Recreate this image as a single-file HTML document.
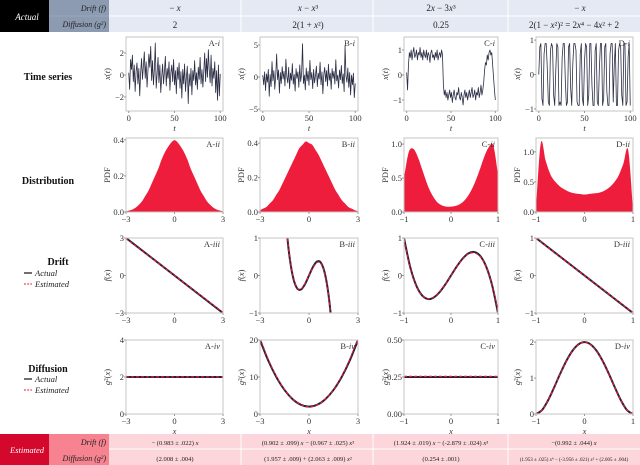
<!DOCTYPE html>
<html><head><meta charset="utf-8">
<style>
body{margin:0;background:#fff;width:640px;height:465px;overflow:hidden;font-family:"Liberation Serif",serif}
svg{display:block}
text{font-family:"Liberation Serif",serif}
</style></head><body>
<svg id="fig" width="640" height="465" viewBox="0 0 640 465">
<g>
<rect x="0" y="0" width="49" height="32" fill="#000"/>
<rect x="49" y="0" width="60" height="32" fill="#8d9bb2"/>
<rect x="109" y="0" width="531" height="32" fill="#e5e9f3"/>
<line x1="109" y1="16" x2="640" y2="16" stroke="#fff" stroke-width="1"/>
<line x1="49" y1="16" x2="109" y2="16" stroke="#a5b1c4" stroke-width="0.5"/>
<line x1="241" y1="0" x2="241" y2="32" stroke="#fff"/><line x1="373" y1="0" x2="373" y2="32" stroke="#fff"/><line x1="508" y1="0" x2="508" y2="32" stroke="#fff"/>
<text x="27" y="20" fill="#fff" font-size="9" font-style="italic" text-anchor="middle">Actual</text>
<text x="106" y="11" fill="#222" font-size="8" font-style="italic" text-anchor="end">Drift (f)</text>
<text x="106" y="27" fill="#222" font-size="8" font-style="italic" text-anchor="end">Diffusion (g²)</text>
<g font-size="9" text-anchor="middle" fill="#222">
<text x="175" y="11">− <tspan font-style="italic">x</tspan></text>
<text x="308" y="11"><tspan font-style="italic">x</tspan> − <tspan font-style="italic">x</tspan>³</text>
<text x="441" y="11">2<tspan font-style="italic">x</tspan> − 3<tspan font-style="italic">x</tspan>³</text>
<text x="580" y="11">− <tspan font-style="italic">x</tspan></text>
<text x="175" y="28">2</text>
<text x="308" y="28">2(1 + <tspan font-style="italic">x</tspan>²)</text>
<text x="441" y="28">0.25</text>
<text x="574" y="28">2(1 − <tspan font-style="italic">x</tspan>²)² = 2<tspan font-style="italic">x</tspan>⁴ − 4<tspan font-style="italic">x</tspan>² + 2</text>
</g></g>
<g>
<rect x="0" y="434" width="49" height="31" fill="#d4072c"/>
<rect x="49" y="434" width="60" height="31" fill="#f6838f"/>
<rect x="109" y="434" width="531" height="31" fill="#fcd6db"/>
<line x1="109" y1="449" x2="640" y2="449" stroke="#fff"/>
<line x1="241" y1="434" x2="241" y2="465" stroke="#fff"/><line x1="373" y1="434" x2="373" y2="465" stroke="#fff"/><line x1="508" y1="434" x2="508" y2="465" stroke="#fff"/>
<text x="27" y="453" fill="#fff" font-size="8.5" font-style="italic" text-anchor="middle">Estimated</text>
<text x="106" y="445" fill="#222" font-size="8" font-style="italic" text-anchor="end">Drift (f)</text>
<text x="106" y="461" fill="#222" font-size="8" font-style="italic" text-anchor="end">Diffusion (g²)</text>
<g font-size="6.5" text-anchor="middle" fill="#222">
<text x="175" y="445">− (0.983 ± .022) <tspan font-style="italic">x</tspan></text>
<text x="308" y="445">(0.902 ± .099) <tspan font-style="italic">x</tspan> − (0.967 ± .025) <tspan font-style="italic">x</tspan>³</text>
<text x="441" y="445">(1.924 ± .019) <tspan font-style="italic">x</tspan> − (-2.879 ± .024) <tspan font-style="italic">x</tspan>³</text>
<text x="574" y="445">−(0.992 ± .044) <tspan font-style="italic">x</tspan></text>
<text x="175" y="461">(2.008 ± .004)</text>
<text x="308" y="461">(1.957 ± .009) + (2.063 ± .009) <tspan font-style="italic">x</tspan>²</text>
<text x="441" y="461">(0.254 ± .001)</text>
<text x="574" y="461" font-size="5">(1.953 ± .025) <tspan font-style="italic">x</tspan>⁴ − (-3.956 ± .021) <tspan font-style="italic">x</tspan>² + (2.005 ± .004)</text>
</g></g>
<g font-weight="bold" font-size="10" fill="#111" text-anchor="middle">
<text x="48" y="80">Time series</text>
<text x="48" y="184">Distribution</text>
<text x="58" y="265">Drift</text>
<text x="48" y="372">Diffusion</text>
</g>
<g font-size="8.5" font-style="italic" fill="#222">
<line x1="24" y1="273" x2="32" y2="273" stroke="#222" stroke-width="1.3"/><text x="35" y="276">Actual</text>
<line x1="24" y1="284" x2="32" y2="284" stroke="#e8192c" stroke-width="1" stroke-dasharray="2,1.2"/><text x="35" y="287">Estimated</text>
</g>
<g font-size="8.5" font-style="italic" fill="#222">
<line x1="24" y1="379" x2="32" y2="379" stroke="#222" stroke-width="1.3"/><text x="35" y="382">Actual</text>
<line x1="24" y1="390" x2="32" y2="390" stroke="#e8192c" stroke-width="1" stroke-dasharray="2,1.2"/><text x="35" y="393">Estimated</text>
</g>
<g id="panels"></g>
</svg>
<script>
// ---- data ----
const tsA=[0.2,-1.3,1.4,0.5,1.8,-0.6,0.9,-1.5,0.3,1.1,-0.8,0.6,-1.9,0.2,1.5,-0.4,0.8,2.1,-0.3,1.2,-1.1,0.4,1.9,0.7,2.6,-0.5,1.3,-0.9,0.5,2.9,-1.2,0.1,1.6,-0.7,0.9,-1.6,-0.2,1.0,-0.8,0.3,1.7,-1.0,0.6,-0.3,1.2,-1.4,0.2,0.9,-0.6,1.4,-0.9,0.4,-1.7,0.7,-0.4,1.1,-1.2,0.3,-2.1,0.5,-0.8,1.0,-1.5,-0.2,0.8,-2.6,0.1,-1.0,0.6,-1.8,0.4,-0.5,1.3,-0.9,0.2,-1.3,0.7,-0.4,1.6,-0.8,0.5,-1.1,0.3,2.0,-0.6,1.5,-0.2,2.3,0.4,-0.7,1.8,-1.0,0.6,-0.3,1.2,-1.6,0.4,-2.3,0.9,-1.9,0.1];
const tsB=[0.3,-1.2,0.8,-2.1,0.5,-0.8,1.2,-3.0,0.4,-1.5,2.4,-0.6,1.0,-1.9,0.2,3.6,-0.4,1.1,-2.5,0.7,-1.0,1.6,-0.3,0.9,-1.4,2.8,0.1,-0.9,1.5,-1.8,0.6,-0.5,2.1,-1.1,0.4,-2.2,1.3,-0.2,0.8,-1.6,1.9,-0.7,0.5,5.2,-1.0,0.3,-2.0,1.4,-0.6,0.9,-1.3,2.6,-0.4,0.7,-1.8,1.2,-0.9,0.2,1.7,-1.5,0.6,-0.3,2.3,-1.2,0.8,-2.6,0.4,1.5,-0.7,1.0,-1.4,2.0,-0.5,0.6,-1.9,1.3,-0.2,0.9,-1.1,2.7,-0.6,0.3,-1.7,1.1,-0.4,1.8,-1.0,0.5,-2.3,4.9,0.2,-0.8,1.4,-1.6,0.7,-2.8,0.3,-1.2,0.6,-3.2,-1.0];
const tsC=[0.1,-0.6,0.4,0.9,0.7,1.0,0.6,0.9,1.1,0.7,0.8,1.0,0.6,0.9,0.8,1.1,0.7,0.9,0.6,1.0,0.8,0.7,1.0,0.6,0.9,0.8,0.5,0.9,1.0,0.7,0.8,0.6,0.9,0.7,1.0,0.6,0.8,0.9,0.7,1.0,0.8,-0.4,-0.8,-0.6,-0.9,-0.7,-1.0,-0.8,-0.6,-0.9,-0.7,-1.1,-0.8,-0.6,-0.9,-1.0,-0.7,-0.8,-0.5,-0.9,-1.0,-0.7,-0.9,-1.2,-0.8,-0.6,-0.9,-0.7,-1.0,-0.8,-0.6,-0.9,-0.7,-0.5,-0.9,-0.8,-0.6,-1.0,-0.7,-0.8,-0.5,-0.9,-0.7,-0.4,-0.8,-0.6,-0.3,0.2,0.5,0.4,0.8,0.6,0.9,1.0,0.8,0.9,0.4,-0.1,-0.6,-1.0];
const tsD=[0,0.8,0.9,-0.7,-0.9,0.6,0.9,0.9,0.2,-0.8,-0.9,0.7,0.9,0.8,-0.6,-0.9,0.1,0.9,0.8,-0.9,-0.8,-0.9,0.5,0.9,0.9,-0.2,-0.9,-0.8,0.8,0.9,-0.4,-0.9,0.3,0.9,0.9,0.7,-0.8,-0.9,-0.9,0.6,0.9,-0.7,-0.9,0.4,0.9,0.8,-0.9,-0.6,0.9,0.9,-0.3,-0.9,-0.9,0.7,0.9,-0.8,-0.9,0.2,0.9,0.9,-0.9,-0.7,0.8,0.9,-0.5,-0.9,-0.9,0.6,0.9,0.9,-0.8,0.3,0.9,-0.9,-0.9,0.7,0.9,0.8,-0.6,-0.9,0.9,0.9,-0.9,-0.8,0.5,0.9,-0.9];
const pdfA=[0.004,0.008,0.014,0.024,0.04,0.06,0.09,0.12,0.16,0.2,0.24,0.29,0.33,0.36,0.385,0.398,0.385,0.36,0.33,0.29,0.24,0.2,0.16,0.12,0.09,0.06,0.04,0.024,0.014,0.008,0.004];
const pdfB=[0.01,0.02,0.03,0.05,0.07,0.1,0.13,0.17,0.21,0.25,0.29,0.33,0.37,0.39,0.41,0.4,0.39,0.36,0.33,0.29,0.25,0.21,0.17,0.13,0.1,0.07,0.05,0.03,0.02,0.01,0.005];
const pdfC=[0.5,0.88,0.93,0.8,0.6,0.4,0.25,0.15,0.1,0.08,0.08,0.09,0.12,0.18,0.28,0.42,0.6,0.8,0.95,0.98,0.55];
const pdfD=[0.05,1.15,0.85,0.62,0.5,0.42,0.37,0.33,0.31,0.3,0.29,0.3,0.31,0.32,0.35,0.4,0.48,0.6,0.8,1.03,0.05];
const driftXA=[-3,3], driftA=[3,-3], driftEstA=[2.95,-2.95];
const driftXB=[-1.5,-1.25,-1,-0.75,-0.5,-0.25,0,0.25,0.5,0.75,1,1.25,1.5];
const driftB=[1.875,0.703,0,-0.328,-0.375,-0.234,0,0.234,0.375,0.328,0,-0.703,-1.875];
const driftEstB=[1.91,0.72,0.03,-0.31,-0.36,-0.22,0,0.21,0.35,0.3,-0.03,-0.72,-1.9];
const driftXC=[-1,-0.875,-0.75,-0.625,-0.5,-0.375,-0.25,-0.125,0,0.125,0.25,0.375,0.5,0.625,0.75,0.875,1];
const driftC=[1,0.26,-0.234,-0.518,-0.625,-0.592,-0.453,-0.244,0,0.244,0.453,0.592,0.625,0.518,0.234,-0.26,-1];
const driftEstC=[0.955,0.23,-0.25,-0.52,-0.62,-0.58,-0.44,-0.24,0,0.24,0.44,0.58,0.6,0.5,0.23,-0.25,-0.955];
const driftXD=[-1,1], driftD=[1,-1], driftEstD=[0.99,-0.99];
const diffXA=[-3,3], diffA=[2,2], diffEstA=[2.008,2.008];
const diffXB=[-3,-2.5,-2,-1.5,-1,-0.5,0,0.5,1,1.5,2,2.5,3];
const diffB=[20,14.5,10,6.5,4,2.5,2,2.5,4,6.5,10,14.5,20];
const diffEstB=[20.5,14.85,10.2,6.6,4.02,2.47,1.96,2.47,4.02,6.6,10.2,14.85,20.5];
const diffXC=[-1,1], diffC=[0.25,0.25], diffEstC=[0.254,0.254];
const diffXD=[-1,-0.875,-0.75,-0.625,-0.5,-0.375,-0.25,-0.125,0,0.125,0.25,0.375,0.5,0.625,0.75,0.875,1];
const diffD=[0,0.11,0.383,0.742,1.125,1.476,1.758,1.938,2,1.938,1.758,1.476,1.125,0.742,0.383,0.11,0];
const diffEstD=[0,0.11,0.38,0.74,1.12,1.47,1.75,1.93,2.005,1.93,1.75,1.47,1.12,0.74,0.38,0.11,0];

const NS='http://www.w3.org/2000/svg';
const root=document.getElementById('panels');
const cols=[{x0:126,x1:223,L:'A'},{x0:260,x1:358,L:'B'},{x0:404,x1:498,L:'C'},{x0:536,x1:633,L:'D'}];
const rows=[{y0:37,y1:111,r:'i'},{y0:138,y1:212,r:'ii'},{y0:238,y1:313,r:'iii'},{y0:340,y1:414,r:'iv'}];
function mk(tag,attrs,parent){const e=document.createElementNS(NS,tag);for(const k in attrs)e.setAttribute(k,attrs[k]);(parent||root).appendChild(e);return e;}
function smooth(pts){if(pts.length<3)return 'M'+pts.map(p=>p.join(',')).join('L');let d='M'+pts[0].join(',');for(let i=0;i<pts.length-1;i++){const p0=pts[Math.max(0,i-1)],p1=pts[i],p2=pts[i+1],p3=pts[Math.min(pts.length-1,i+2)];const c1=[p1[0]+(p2[0]-p0[0])/6,p1[1]+(p2[1]-p0[1])/6],c2=[p2[0]-(p3[0]-p1[0])/6,p2[1]-(p3[1]-p1[1])/6];d+='C'+c1.join(',')+' '+c2.join(',')+' '+p2.join(',');}return d;}
let clipId=0;
function panel(ci,ri,o){
  const c=cols[ci],r=rows[ri];
  const g=mk('g',{});
  
  
  const sx=v=>c.x0+(v-o.xd[0])/(o.xd[1]-o.xd[0])*(c.x1-c.x0);
  const sy=v=>r.y1-(v-o.yd[0])/(o.yd[1]-o.yd[0])*(r.y1-r.y0);
  const id='clip'+(clipId++);
  const cp=mk('clipPath',{id:id},g);mk('rect',{x:c.x0,y:r.y0,width:c.x1-c.x0,height:r.y1-r.y0},cp);
  const body=mk('g',{'clip-path':'url(#'+id+')'},g);
  o.draw(body,sx,sy);
  mk('rect',{x:c.x0,y:r.y0,width:c.x1-c.x0,height:r.y1-r.y0,fill:'none',stroke:'#c4c4c4','stroke-width':1},g);
  o.xt.forEach(([v,l])=>{const x=sx(v);mk('line',{x1:x,y1:r.y1,x2:x,y2:r.y1+2,stroke:'#999'},g);const t=mk('text',{x:x,y:r.y1+10,'font-size':8.5,'text-anchor':'middle',fill:'#333'},g);t.textContent=l;});
  o.yt.forEach(([v,l])=>{const y=sy(v);mk('line',{x1:c.x0-2,y1:y,x2:c.x0,y2:y,stroke:'#999'},g);const t=mk('text',{x:c.x0-2,y:y+3,'font-size':8.5,'text-anchor':'end',fill:'#333'},g);t.textContent=l;});
  const yl=mk('text',{x:0,y:0,'font-size':8.5,'text-anchor':'middle',fill:'#333',transform:'translate('+(c.x0-16)+','+((r.y0+r.y1)/2)+') rotate(-90)'},g);
  
  
  yl.innerHTML=o.yl;
  if(o.xl){const xl=mk('text',{x:(c.x0+c.x1)/2,y:r.y1+20,'font-size':8.5,'font-style':'italic','text-anchor':'middle',fill:'#333'},g);xl.textContent=o.xl;}
  const pl=mk('text',{x:c.x1-3,y:r.y0+9,'font-size':8.5,'text-anchor':'end',fill:'#333'},g);
  
  
  pl.innerHTML=c.L+'-<tspan font-style="italic">'+r.r+'</tspan>';
}
function ts(data){return (b,sx,sy)=>{const n=data.length;const pts=data.map((v,i)=>[sx(i*100/(n-1)).toFixed(2),sy(v).toFixed(2)]);const p=mk('polyline',{points:pts.map(p=>p.join(',')).join(' '),fill:'none',stroke:'#2b2e45','stroke-width':0.8,'stroke-linejoin':'round'},b);};}
function hist(data,lo,hi){return (b,sx,sy)=>{const n=data.length,w=(hi-lo)/(n-1);const pts=data.map((v,i)=>[sx(lo+i*w),sy(v)]);let d=smooth(pts);d+='L'+sx(hi)+','+sy(0)+'L'+sx(lo)+','+sy(0)+'Z';const p=mk('path',{d:d,fill:'#ee1d3c',stroke:'none'},b);};}
function curves(xs,act,est){return (b,sx,sy)=>{const a=mk('path',{d:smooth(xs.map((x,i)=>[sx(x),sy(act[i])])),fill:'none',stroke:'#22233a','stroke-width':2},b);const e=mk('path',{d:smooth(xs.map((x,i)=>[sx(x),sy(est[i])])),fill:'none',stroke:'#e8192c','stroke-width':1.2,'stroke-dasharray':'3,2'},b);};}
const XT=[[0,'0'],[50,'50'],[100,'100']];
const X3=[[-3,'−3'],[0,'0'],[3,'3']], X1=[[-1,'−1'],[0,'0'],[1,'1']];
const xl='<tspan font-style="italic">x</tspan>(<tspan font-style="italic">t</tspan>)';
const fl='<tspan font-style="italic">f</tspan>(<tspan font-style="italic">x</tspan>)';
const gl='<tspan font-style="italic">g</tspan>²(<tspan font-style="italic">x</tspan>)';
panel(0,0,{xd:[-3,103],yd:[-3.27,3.45],xt:XT,yt:[[2,'2'],[0,'0'],[-2,'−2']],yl:xl,xl:'t',draw:ts(tsA)});
panel(1,0,{xd:[-3,103],yd:[-5.3,6.25],xt:XT,yt:[[5,'5'],[0,'0'],[-5,'−5']],yl:xl,xl:'t',draw:ts(tsB)});
panel(2,0,{xd:[-3,103],yd:[-1.44,1.52],xt:XT,yt:[[1,'1'],[0,'0'],[-1,'−1']],yl:xl,xl:'t',draw:ts(tsC)});
panel(3,0,{xd:[-3,103],yd:[-1.06,1.09],xt:XT,yt:[[1,'1'],[0,'0'],[-1,'−1']],yl:xl,xl:'t',draw:ts(tsD)});
panel(0,1,{xd:[-3,3],yd:[0,0.41],xt:X3,yt:[[0,'0.0'],[0.2,'0.2'],[0.4,'0.4']],yl:'PDF',draw:hist(pdfA,-3,3)});
panel(1,1,{xd:[-3,3],yd:[0,0.43],xt:X3,yt:[[0,'0.0'],[0.2,'0.2'],[0.4,'0.4']],yl:'PDF',draw:hist(pdfB,-3,3)});
panel(2,1,{xd:[-1,1],yd:[0,1.09],xt:X1,yt:[[0,'0.0'],[0.5,'0.5'],[1,'1.0']],yl:'PDF',draw:hist(pdfC,-1,1)});
panel(3,1,{xd:[-1,1],yd:[0,1.23],xt:X1,yt:[[0,'0.0'],[0.5,'0.5'],[1,'1.0']],yl:'PDF',draw:hist(pdfD,-1,1)});
panel(0,2,{xd:[-3,3],yd:[-3,3],xt:X3,yt:[[3,'3'],[0,'0'],[-3,'−3']],yl:fl,draw:curves(driftXA,driftA,driftEstA)});
panel(1,2,{xd:[-3,3],yd:[-1,1],xt:X3,yt:[[1,'1'],[0,'0'],[-1,'−1']],yl:fl,draw:curves(driftXB,driftB,driftEstB)});
panel(2,2,{xd:[-1,1],yd:[-1,1],xt:X1,yt:[[1,'1'],[0,'0'],[-1,'−1']],yl:fl,draw:curves(driftXC,driftC,driftEstC)});
panel(3,2,{xd:[-1,1],yd:[-1,1],xt:X1,yt:[[1,'1'],[0,'0'],[-1,'−1']],yl:fl,draw:curves(driftXD,driftD,driftEstD)});
panel(0,3,{xd:[-3,3],yd:[0,4],xt:X3,yt:[[4,'4'],[2,'2'],[0,'0']],yl:gl,xl:'x',draw:curves(diffXA,diffA,diffEstA)});
panel(1,3,{xd:[-3,3],yd:[0,20],xt:X3,yt:[[20,'20'],[10,'10'],[0,'0']],yl:gl,xl:'x',draw:curves(diffXB,diffB,diffEstB)});
panel(2,3,{xd:[-1,1],yd:[0,0.5],xt:X1,yt:[[0.5,'0.50'],[0.25,'0.25'],[0,'0.00']],yl:gl,xl:'x',draw:curves(diffXC,diffC,diffEstC)});
panel(3,3,{xd:[-1,1],yd:[0,2.06],xt:X1,yt:[[2,'2'],[1,'1'],[0,'0']],yl:gl,xl:'x',draw:curves(diffXD,diffD,diffEstD)});
</script>
</body></html>
